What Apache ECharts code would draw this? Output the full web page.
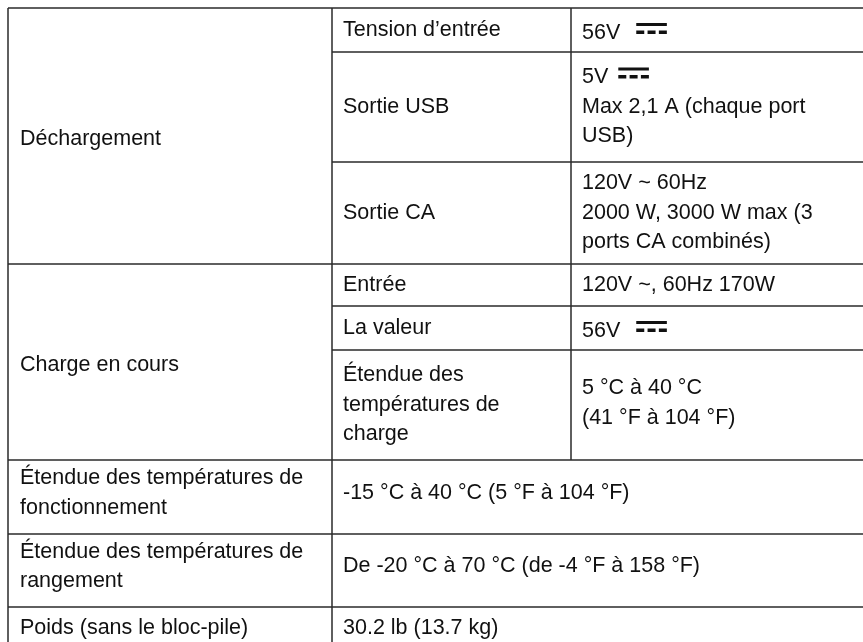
<!DOCTYPE html>
<html><head><meta charset="utf-8">
<script src="https://cdn.jsdelivr.net/npm/echarts@6/dist/echarts.min.js"></script>
<style>html,body{margin:0;padding:0;background:#fff}#c{width:863px;height:642px}</style>
</head><body><div id="c"></div>
<script>
// ---- data ----
const groupLabels = ['Déchargement', 'Charge en cours'];
const itemLabels = ['Tension d’entrée', 'Sortie USB', 'Sortie CA', 'Entrée', 'La valeur', 'Étendue des\ntempératures de\ncharge'];
const itemValues = ['56V', '5V\nMax 2,1 A (chaque port\nUSB)', '120V ~ 60Hz\n2000 W, 3000 W max (3\nports CA combinés)', '120V ~, 60Hz 170W', '56V', '5 °C à 40 °C\n(41 °F à 104 °F)'];
const itemDC = [true, true, false, false, true, false];
const specLabels = ['Étendue des températures de\nfonctionnement', 'Étendue des températures de\nrangement', 'Poids (sans le bloc-pile)'];
const specValues = ['-15 °C à 40 °C (5 °F à 104 °F)', 'De -20 °C à 70 °C (de -4 °F à 158 °F)', '30.2 lb (13.7 kg)'];

// ---- layout ----
const W = 863, H = 642;
const COLS = [8, 332, 571, 900];
const ROWS = [8, 52, 162, 264, 306, 350, 460, 534, 607, 649];
const FONT_SIZE = 21.5, LINE_H = 29.5;
const FONT = FONT_SIZE + 'px "Liberation Sans", Arial, sans-serif';
const PAD = [12, 11, 11];
const TEXT_COLOR = '#111';
const LINE_COLOR = '#2a2a2a';
// vertical nudges (px) per cell kind
const DY_GROUP = 3, DY_DC_SINGLE = 3, DY_SPEC = [-4, -4, 0], DY_ITEM_VAL = [0, 0, 0, 0, 0, -2];

// build cells
const cells = [];
const itemsPerGroup = 3;
groupLabels.forEach((g, gi) => {
  const r0 = gi * itemsPerGroup, r1 = r0 + itemsPerGroup;
  cells.push({ c0: 0, c1: 1, r0, r1, text: g, col: 0, dy: DY_GROUP });
});
itemLabels.forEach((t, i) => {
  const v = itemValues[i];
  const single = v.indexOf('\n') < 0;
  cells.push({ c0: 1, c1: 2, r0: i, r1: i + 1, text: t, col: 1, dy: 0 });
  cells.push({ c0: 2, c1: 3, r0: i, r1: i + 1, text: v, col: 2, dc: itemDC[i],
    dy: (itemDC[i] && single ? DY_DC_SINGLE : 0) + DY_ITEM_VAL[i] });
});
specLabels.forEach((t, i) => {
  const r = itemLabels.length + i;
  cells.push({ c0: 0, c1: 1, r0: r, r1: r + 1, text: t, col: 0, dy: DY_SPEC[i] });
  cells.push({ c0: 1, c1: 3, r0: r, r1: r + 1, text: specValues[i], col: 1, dy: DY_SPEC[i] });
});

// borders
const lines = [];
const nRows = ROWS.length - 1;
const fullRows = new Set([0, 3, 6, 7, 8, 9]);
for (let r = 0; r <= nRows; r++) {
  lines.push([fullRows.has(r) ? COLS[0] : COLS[1], ROWS[r], COLS[3], ROWS[r]]);
}
lines.push([COLS[0], ROWS[0], COLS[0], ROWS[nRows]]);
lines.push([COLS[1], ROWS[0], COLS[1], ROWS[nRows]]);
lines.push([COLS[2], ROWS[0], COLS[2], ROWS[6]]);

const measureCtx = document.createElement('canvas').getContext('2d');
measureCtx.font = FONT;

const chart = echarts.init(document.getElementById('c'), null, { renderer: 'canvas' });
chart.setOption({
  animation: false,
  backgroundColor: '#fff',
  grid: { left: 0, right: 0, top: 0, bottom: 0 },
  xAxis: { type: 'value', min: 0, max: W, show: false },
  yAxis: { type: 'value', min: 0, max: H, inverse: true, show: false },
  series: [
    {
      type: 'custom',
      coordinateSystem: 'cartesian2d',
      data: lines.map((l, i) => [i].concat(l)),
      renderItem: function (params, api) {
        const p0 = api.coord([api.value(1), api.value(2)]);
        const p1 = api.coord([api.value(3), api.value(4)]);
        return {
          type: 'line',
          shape: { x1: p0[0], y1: p0[1], x2: p1[0], y2: p1[1] },
          style: { stroke: LINE_COLOR, lineWidth: 1.5 }
        };
      },
      z: 1
    },
    {
      type: 'custom',
      coordinateSystem: 'cartesian2d',
      data: cells.map((c, i) => [i, COLS[c.c0], ROWS[c.r0], COLS[c.c1], ROWS[c.r1]]),
      renderItem: function (params, api) {
        const c = cells[api.value(0)];
        const p0 = api.coord([api.value(1), api.value(2)]);
        const p1 = api.coord([api.value(3), api.value(4)]);
        const x = p0[0] + PAD[c.col];
        const cy = (p0[1] + p1[1]) / 2 + (c.dy || 0);
        const nLines = c.text.split('\n').length;
        const children = [{
          type: 'text',
          style: {
            text: c.text, x: x, y: cy, font: FONT, fill: TEXT_COLOR,
            lineHeight: LINE_H, verticalAlign: 'middle', align: 'left'
          }
        }];
        if (c.dc) {
          const first = c.text.split('\n')[0];
          const w = measureCtx.measureText(first).width;
          const gap = first.length > 2 ? 16 : 10;
          const sx = x + w + gap;
          const cy1 = cy - nLines * LINE_H / 2 + LINE_H / 2;
          children.push({ type: 'rect', shape: { x: sx, y: cy1 - 10, width: 30.6, height: 3 }, style: { fill: '#111' } });
          for (let k = 0; k < 3; k++) {
            children.push({ type: 'rect', shape: { x: sx + k * 11.3, y: cy1 - 2.5, width: 8, height: 3.5 }, style: { fill: '#111' } });
          }
        }
        return { type: 'group', children: children };
      },
      z: 2
    }
  ]
});
</script>
</body></html>
